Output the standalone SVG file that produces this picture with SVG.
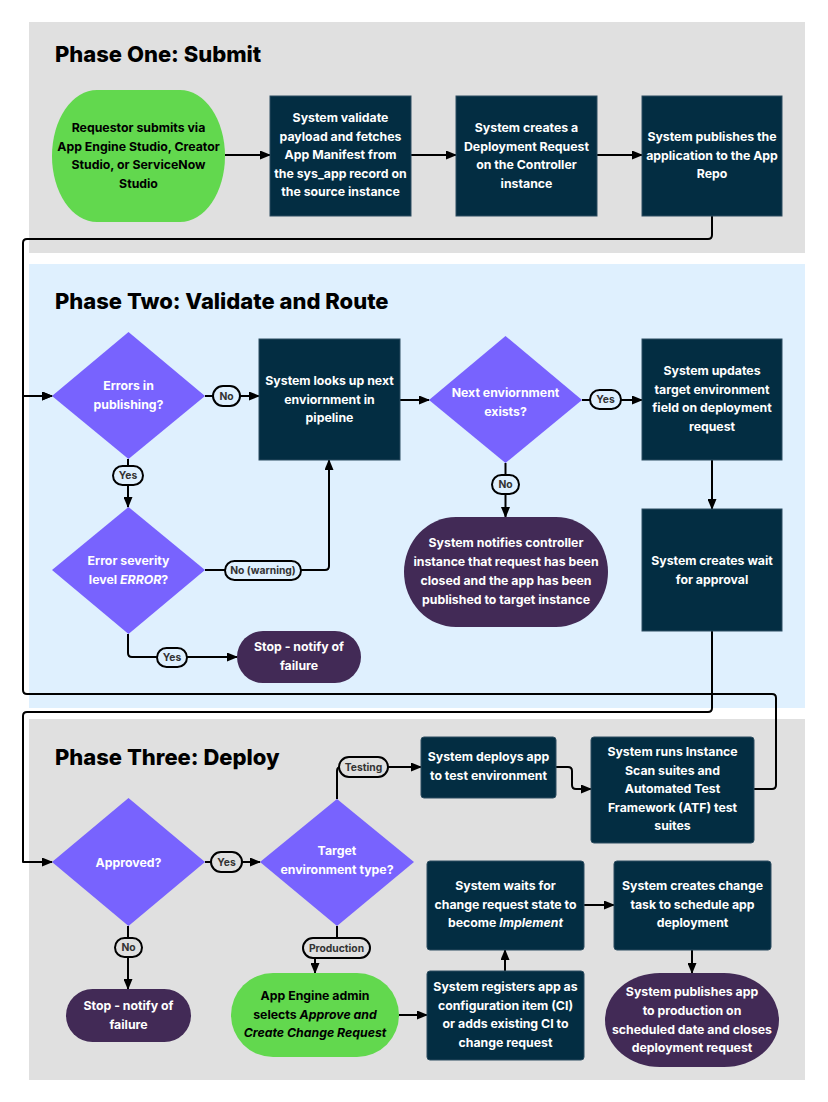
<svg xmlns="http://www.w3.org/2000/svg" width="828" height="1102" viewBox="0 0 828 1102">
<defs>
<marker id="arr" markerUnits="userSpaceOnUse" markerWidth="11" markerHeight="9" refX="10" refY="4.5" orient="auto">
<path d="M0,0 L11,4.5 L0,9 z" fill="#000"/>
</marker>
<style>
.phase{font-family:Inter,"Liberation Sans",sans-serif;font-weight:800;font-size:22px;fill:#000}
.t{font-family:Inter,"Liberation Sans",sans-serif;font-weight:700;font-size:12.3px;text-anchor:middle}
.w{fill:#fff}
.k{fill:#000}
.box{fill:#032d42;stroke:#2d4d60;stroke-width:1}
.dia{fill:#7863fe}
.stop{fill:#422a56}
.start{fill:#62d84e}
.c{fill:none;stroke:#000;stroke-width:2;stroke-linejoin:round}
.a{marker-end:url(#arr)}
.pill{stroke:#000;stroke-width:2}
.pl{font-family:Inter,"Liberation Sans",sans-serif;font-weight:700;font-size:10.3px;fill:#333;text-anchor:middle}
</style>
</defs>
<rect width="828" height="1102" fill="#fff"/>
<rect x="29" y="22" width="776" height="231" fill="#e0e0e0"/>
<rect x="29" y="264" width="776" height="444" fill="#dff0fe"/>
<rect x="29" y="719" width="776" height="361" fill="#e0e0e0"/>
<text class="phase" x="55" y="62">Phase One: Submit</text>
<text class="phase" x="55" y="309">Phase Two: Validate and Route</text>
<text class="phase" x="55" y="765">Phase Three: Deploy</text>

<g id="connectors">
<path class="c a" d="M225,155 H270"/>
<path class="c a" d="M411,155 H456"/>
<path class="c a" d="M597,155 H642"/>
<path class="c a" d="M712,216 V235 Q712,239 708,239 H27 Q23,239 23,243 V396 H52"/>
<path class="c a" d="M754,789 H772 Q776,789 776,785 V698 Q776,694 772,694 H27 Q23,694 23,690 V396 H52"/>
<path class="c a" d="M205,396 H259"/>
<path class="c a" d="M128,459 V507"/>
<path class="c a" d="M400,400 H429"/>
<path class="c a" d="M582,400 H642"/>
<path class="c a" d="M505.5,463 V517"/>
<path class="c a" d="M712,460 V509"/>
<path class="c a" d="M205,570 H325 Q329,570 329,566 V460"/>
<path class="c a" d="M128,634 V653 Q128,657 132,657 H237"/>
<path class="c a" d="M712,631 V708 Q712,712 708,712 H27 Q23,712 23,716 V862 H52"/>
<path class="c a" d="M205,862 H260"/>
<path class="c a" d="M128,926 V989"/>
<path class="c a" d="M337,799 V771 Q337,767 341,767 H421"/>
<path class="c" d="M337,926 V940"/>
<path class="c a" d="M315,956 V973"/>
<path class="c a" d="M556,767 H568 Q572,767 572,771 V785 Q572,789 576,789 H591"/>
<path class="c a" d="M399,1015 H427"/>
<path class="c a" d="M505,971 V950"/>
<path class="c a" d="M584,905 H614"/>
<path class="c a" d="M692,950 V973"/>
</g>

<g id="labels">
<rect class="pill" x="213" y="386" width="27" height="20" rx="10" fill="#dff0fe"/><text class="pl" x="226.5" y="399.5">No</text>
<rect class="pill" x="113" y="466" width="30" height="19" rx="9.5" fill="#dff0fe"/><text class="pl" x="128" y="479">Yes</text>
<rect class="pill" x="590" y="390" width="31" height="19" rx="9.5" fill="#dff0fe"/><text class="pl" x="605.5" y="403">Yes</text>
<rect class="pill" x="492" y="475" width="27" height="19" rx="9.5" fill="#dff0fe"/><text class="pl" x="505.5" y="488">No</text>
<rect class="pill" x="225" y="561" width="76" height="19" rx="9.5" fill="#dff0fe"/><text class="pl" x="263" y="574">No (warning)</text>
<rect class="pill" x="157" y="648" width="30" height="19" rx="9.5" fill="#dff0fe"/><text class="pl" x="172" y="661">Yes</text>
<rect class="pill" x="211" y="852" width="31" height="20" rx="10" fill="#e0e0e0"/><text class="pl" x="226.5" y="865.5">Yes</text>
<rect class="pill" x="115" y="938" width="27" height="19" rx="9.5" fill="#e0e0e0"/><text class="pl" x="128.5" y="951">No</text>
<rect class="pill" x="339" y="757" width="49" height="20" rx="10" fill="#e0e0e0"/><text class="pl" x="363.5" y="770.5">Testing</text>
<rect class="pill" x="303" y="938" width="67" height="20" rx="10" fill="#e0e0e0"/><text class="pl" x="336.5" y="951.5">Production</text>
</g>

<g id="n1">
<rect class="start" x="52" y="90" width="173" height="132" rx="45" ry="66"/>
<text class="t k"><tspan x="138.5" y="132">Requestor submits via</tspan><tspan x="138.5" y="150.5">App Engine Studio, Creator</tspan><tspan x="138.5" y="169">Studio, or ServiceNow</tspan><tspan x="138.5" y="187.5">Studio</tspan></text>
</g>
<g id="n2">
<rect class="box" x="270" y="96" width="141" height="120"/>
<text class="t w"><tspan x="340.5" y="122">System validate</tspan><tspan x="340.5" y="140.5">payload and fetches</tspan><tspan x="340.5" y="159">App Manifest from</tspan><tspan x="340.5" y="177.5">the sys_app record on</tspan><tspan x="340.5" y="196">the source instance</tspan></text>
</g>
<g id="n3">
<rect class="box" x="456" y="96" width="141" height="120"/>
<text class="t w"><tspan x="526.5" y="132">System creates a</tspan><tspan x="526.5" y="150.5">Deployment Request</tspan><tspan x="526.5" y="169">on the Controller</tspan><tspan x="526.5" y="187.5">instance</tspan></text>
</g>
<g id="n4">
<rect class="box" x="642" y="96" width="140" height="120"/>
<text class="t w"><tspan x="712" y="141">System publishes the</tspan><tspan x="712" y="159.5">application to the App</tspan><tspan x="712" y="178">Repo</tspan></text>
</g>

<g id="d1">
<polygon class="dia" points="128.5,332 205,396 128.5,459 52,396"/>
<text class="t w"><tspan x="128.5" y="390">Errors in</tspan><tspan x="128.5" y="409">publishing?</tspan></text>
</g>
<g id="n5">
<rect class="box" x="259" y="339" width="141" height="121"/>
<text class="t w"><tspan x="329.5" y="385">System looks up next</tspan><tspan x="329.5" y="403.5">enviornment in</tspan><tspan x="329.5" y="422">pipeline</tspan></text>
</g>
<g id="d2">
<polygon class="dia" points="505.5,336 582,400 505.5,463 429,400"/>
<text class="t w"><tspan x="505.5" y="397">Next enviornment</tspan><tspan x="505.5" y="416">exists?</tspan></text>
</g>
<g id="n6">
<rect class="box" x="642" y="339" width="140" height="121"/>
<text class="t w"><tspan x="712" y="375">System updates</tspan><tspan x="712" y="393.5">target environment</tspan><tspan x="712" y="412">field on deployment</tspan><tspan x="712" y="430.5">request</tspan></text>
</g>
<g id="d3">
<polygon class="dia" points="128.5,507 205,570 128.5,634 52,570"/>
<text class="t w"><tspan x="128.5" y="565">Error severity</tspan><tspan x="128.5" y="584">level <tspan font-style="italic">ERROR</tspan>?</tspan></text>
</g>
<g id="n7">
<rect class="stop" x="237" y="631" width="124" height="52" rx="26"/>
<text class="t w"><tspan x="299" y="651">Stop - notify of</tspan><tspan x="299" y="669.5">failure</tspan></text>
</g>
<g id="n8">
<rect class="stop" x="404" y="517" width="204" height="110" rx="52" ry="55"/>
<text class="t w"><tspan x="506" y="547">System notifies controller</tspan><tspan x="506" y="566">instance that request has been</tspan><tspan x="506" y="585">closed and the app has been</tspan><tspan x="506" y="603.5">published to target instance</tspan></text>
</g>
<g id="n9">
<rect class="box" x="642" y="509" width="140" height="122"/>
<text class="t w"><tspan x="712" y="565">System creates wait</tspan><tspan x="712" y="583.5">for approval</tspan></text>
</g>

<g id="d4">
<polygon class="dia" points="128.5,798 205,862 128.5,926 52,862"/>
<text class="t w" x="128.5" y="866.5">Approved?</text>
</g>
<g id="d5">
<polygon class="dia" points="337,799 414,862 337,926 260,862"/>
<text class="t w"><tspan x="337" y="855">Target</tspan><tspan x="337" y="874">environment type?</tspan></text>
</g>
<g id="n10">
<rect class="box" x="421" y="737" width="135" height="61" rx="3"/>
<text class="t w"><tspan x="488.5" y="761">System deploys app</tspan><tspan x="488.5" y="780">to test environment</tspan></text>
</g>
<g id="n11">
<rect class="box" x="591" y="737" width="163" height="106" rx="3"/>
<text class="t w"><tspan x="672.5" y="756">System runs Instance</tspan><tspan x="672.5" y="774.5">Scan suites and</tspan><tspan x="672.5" y="793">Automated Test</tspan><tspan x="672.5" y="811.5">Framework (ATF) test</tspan><tspan x="672.5" y="830">suites</tspan></text>
</g>
<g id="n12">
<rect class="stop" x="66" y="989" width="125" height="53" rx="26.5"/>
<text class="t w"><tspan x="128.5" y="1010">Stop - notify of</tspan><tspan x="128.5" y="1028.5">failure</tspan></text>
</g>
<g id="n13">
<rect class="start" x="231" y="973" width="168" height="84" rx="42"/>
<text class="t k"><tspan x="315" y="1000">App Engine admin</tspan><tspan x="315" y="1018.5">selects <tspan font-style="italic">Approve and</tspan></tspan><tspan x="315" y="1037" font-style="italic">Create Change Request</tspan></text>
</g>
<g id="n14">
<rect class="box" x="427" y="971" width="157" height="89" rx="3"/>
<text class="t w"><tspan x="505.5" y="991">System registers app as</tspan><tspan x="505.5" y="1009.5">configuration item (CI)</tspan><tspan x="505.5" y="1028">or adds existing CI to</tspan><tspan x="505.5" y="1046.5">change request</tspan></text>
</g>
<g id="n15">
<rect class="box" x="427" y="861" width="157" height="89" rx="3"/>
<text class="t w"><tspan x="505.5" y="890">System waits for</tspan><tspan x="505.5" y="908.5">change request state to</tspan><tspan x="505.5" y="927">become <tspan font-style="italic">Implement</tspan></tspan></text>
</g>
<g id="n16">
<rect class="box" x="614" y="861" width="157" height="89" rx="3"/>
<text class="t w"><tspan x="692.5" y="890">System creates change</tspan><tspan x="692.5" y="908.5">task to schedule app</tspan><tspan x="692.5" y="927">deployment</tspan></text>
</g>
<g id="n17">
<rect class="stop" x="605" y="973" width="174" height="94" rx="55" ry="47"/>
<text class="t w"><tspan x="692" y="996">System publishes app</tspan><tspan x="692" y="1015">to production on</tspan><tspan x="692" y="1033.5">scheduled date and closes</tspan><tspan x="692" y="1052">deployment request</tspan></text>
</g>
</svg>
